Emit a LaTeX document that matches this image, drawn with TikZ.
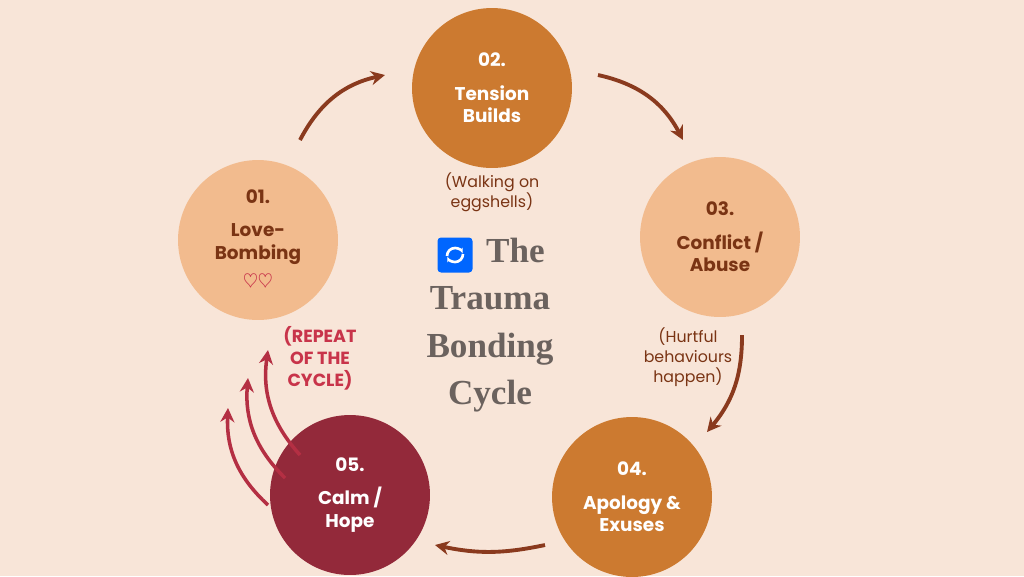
\documentclass[tikz,border=0pt]{standalone}
\usepackage{fontspec}
\setmainfont{Poppins}
\newfontfamily\titlefont{Liberation Serif}
\usetikzlibrary{arrows.meta}
\definecolor{bg}{HTML}{F8E5D8}
\definecolor{rust}{HTML}{CC7A30}
\definecolor{peach}{HTML}{F2BB8E}
\definecolor{wine}{HTML}{93293A}
\definecolor{brownarr}{HTML}{8A3A1E}
\definecolor{browntxt}{HTML}{7A3414}
\definecolor{redtxt}{HTML}{C8344A}
\definecolor{titlegrey}{HTML}{6B625E}
\tikzset{
  stage/.style={circle, minimum size=3.2cm, inner sep=0pt, align=center,
    font=\fontsize{10.5}{13}\selectfont\bfseries},
  dark/.style={stage, fill=#1, text=white},
  light/.style={stage, fill=peach, text=browntxt},
  flow/.style={-{Stealth[length=8pt,width=8pt]}, line width=2.2pt, brownarr},
  back/.style={-{Stealth[length=8pt,width=8pt]}, line width=2pt, redtxt!90!black},
  note/.style={align=center, text=browntxt, font=\fontsize{9}{11.5}\selectfont}
}
\begin{document}
\begin{tikzpicture}[x=0.02cm, y=-0.02cm]
    \useasboundingbox[fill=bg] (0,0) rectangle (1024,576) ;
    % stages
    \node[light] (s1) at (258,240) {01.\\[6pt]Love-\\Bombing\\[3pt] \textcolor{redtxt}{$\heartsuit\heartsuit$}} ;
    \node[dark=rust] (s2) at (492,88) {02.\\[6pt]Tension\\Builds} ;
    \node[light] (s3) at (720,237) {03.\\[6pt]Conflict /\\Abuse} ;
    \node[dark=rust] (s4) at (632,497) {04.\\[6pt]Apology \&\\Exuses} ;
    \node[dark=wine] (s5) at (350,495) {05.\\[6pt]Calm /\\Hope} ;
    % notes
    \node[note] (n2) at (492,192) {(Walking on\\eggshells)} ;
    \node[note] (n3) at (688,357) {(Hurtful\\behaviours\\happen)} ;
    \node[note, text=redtxt, font=\fontsize{10}{12.5}\selectfont\bfseries] (n5) at (320,358) {(REPEAT\\OF THE\\CYCLE)} ;
    % title
    \node[text=titlegrey, align=center, font=\titlefont\bfseries\fontsize{20}{27}\selectfont] (title) at (490,325) {\phantom{XX}The\\Trauma\\Bonding\\Cycle} ;
    \node[fill=blue!60!cyan, rounded corners=2pt, minimum size=0.7cm] (icon) at (455,255) {} ;
    \draw[white, line width=1.5pt, -{Stealth[length=3pt]}] ([shift={(8,-1)}]icon.center) arc (0:160:8) ;
    \draw[white, line width=1.5pt, -{Stealth[length=3pt]}] ([shift={(-8,1)}]icon.center) arc (180:340:8) ;
    % flow arrows
    \draw[flow] (300,140) to[bend left=25] (385,75) ;
    \draw[flow] (598,75) to[bend left=25] (683,140) ;
    \draw[flow] (742,335) to[bend left=20] (707,432) ;
    \draw[flow] (545,545) to[bend left=12] (435,545) ;
    % repeat arrows
    \draw[back] (268,505) to[bend left=25] (228,408) ;
    \draw[back] (285,478) to[bend left=25] (248,378) ;
    \draw[back] (300,455) to[bend left=25] (268,350) ;
\end{tikzpicture}
\end{document}
